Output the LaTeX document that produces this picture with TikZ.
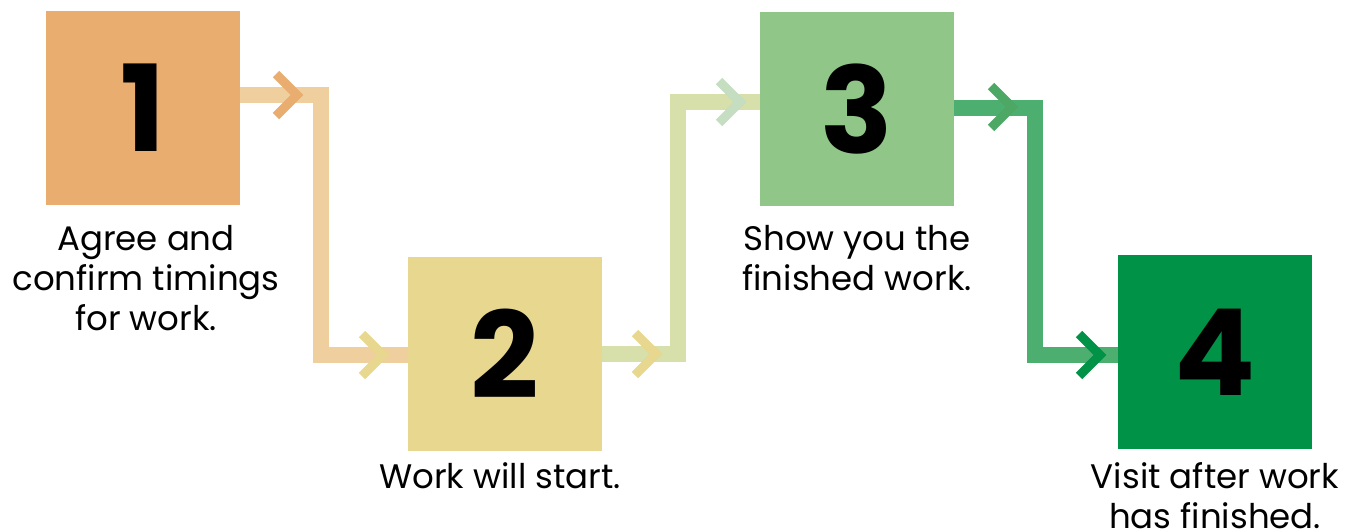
\documentclass[tikz,border=0pt]{standalone}
\usepackage{fontspec}
\setmainfont{Poppins}
\definecolor{cA}{HTML}{E8AD6F}
\definecolor{cAl}{HTML}{F0CF9E}
\definecolor{cB}{HTML}{E8D78E}
\definecolor{cBl}{HTML}{D7DFAA}
\definecolor{cBg}{HTML}{C5DDC0}
\definecolor{cC}{HTML}{90C687}
\definecolor{cCl}{HTML}{4CAF70}
\definecolor{cCd}{HTML}{4DA866}
\definecolor{cD}{HTML}{009246}
\begin{document}
\begin{tikzpicture}[x=1pt,y=-1pt]
\tikzset{
 stepbox/.style={minimum size=194pt, inner sep=0pt, font=\fontsize{120}{120}\selectfont\bfseries},
 lbl/.style={align=center, font=\fontsize{34}{40}\selectfont, anchor=north, inner sep=0pt},
 conn/.style={line width=16pt, line join=miter},
 chev/.style={line width=9pt, line join=miter},
}
\useasboundingbox (0,0) rectangle (1362,531);
% connectors
\coordinate (k1) at (321,95);
\coordinate (k2) at (321,355);
\coordinate (k3) at (678,354);
\coordinate (k4) at (678,102);
\coordinate (k5) at (1035,108);
\coordinate (k6) at (1035,355);
% boxes
\node[stepbox, fill=cA] (b1) at (143,108) {1};
\node[stepbox, fill=cB] (b2) at (505,354) {2};
\node[stepbox, fill=cC] (b3) at (857,109) {3};
\node[stepbox, fill=cD] (b4) at (1215,352) {4};
\draw[conn, cAl] (b1.east |- k1) -- (k1) -- (k2) -- (k2 -| b2.west);
\draw[conn, cBl] (b2.east |- k3) -- (k3) -- (k4) -- (k4 -| b3.west);
\draw[conn, cCl] (b3.east |- k5) -- (k5) -- (k6) -- (k6 -| b4.west);
% chevrons
\coordinate (t1) at (297,95);
\coordinate (t2) at (383,355);
\coordinate (t3) at (656,354);
\coordinate (t4) at (740,102);
\coordinate (t5) at (1012,107);
\coordinate (t6) at (1100,355);
\draw[chev, cA] ([shift={(-21,-21)}]t1) -- (t1) -- ([shift={(-21,21)}]t1);
\draw[chev, cB] ([shift={(-21,-21)}]t2) -- (t2) -- ([shift={(-21,21)}]t2);
\draw[chev, cB] ([shift={(-21,-21)}]t3) -- (t3) -- ([shift={(-21,21)}]t3);
\draw[chev, cBg] ([shift={(-21,-21)}]t4) -- (t4) -- ([shift={(-21,21)}]t4);
\draw[chev, cCd] ([shift={(-21,-21)}]t5) -- (t5) -- ([shift={(-21,21)}]t5);
\draw[chev, cD] ([shift={(-21,-21)}]t6) -- (t6) -- ([shift={(-21,21)}]t6);
% labels
\node[lbl] (l1) at (146,225) {Agree and\\confirm timings\\for work.};
\node[lbl] (l2) at (500,462) {Work will start.};
\node[lbl] (l3) at (857,225) {Show you the\\finished work.};
\node[lbl] (l4) at (1215,462) {Visit after work\\has finished.};
\end{tikzpicture}
\end{document}
